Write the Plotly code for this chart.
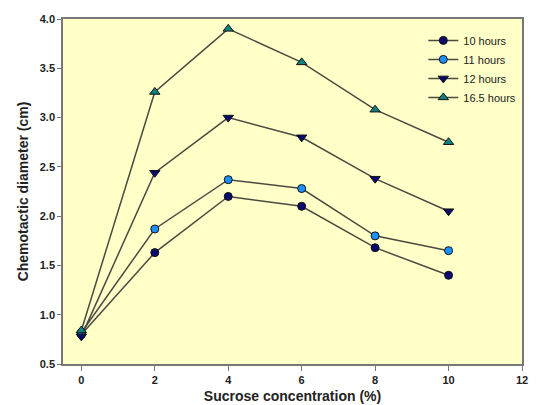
import plotly.graph_objects as go

sucrose = [0, 2, 4, 6, 8, 10]
h10 = [0.80, 1.63, 2.20, 2.10, 1.68, 1.40]
h11 = [0.82, 1.87, 2.37, 2.28, 1.80, 1.65]
h12 = [0.78, 2.44, 3.00, 2.80, 2.38, 2.05]
h165 = [0.84, 3.26, 3.90, 3.56, 3.08, 2.75]
names = ["10 hours", "11 hours", "12 hours", "16.5 hours"]
x_ticks = [0, 2, 4, 6, 8, 10, 12]
y_ticks = [0.5, 1.0, 1.5, 2.0, 2.5, 3.0, 3.5, 4.0]

styles = [
    ("circle", "#0a0a6e", 8),
    ("circle", "#1e90ff", 8),
    ("triangle-down", "#0a0a6e", 9),
    ("triangle-up", "#108080", 9),
]

fig = go.Figure()
for name, ys, (sym, col, sz) in zip(names, [h10, h11, h12, h165], styles):
    fig.add_trace(go.Scatter(
        x=sucrose, y=ys, name=name, mode="lines+markers",
        line=dict(color="#4a4a42", width=1.5),
        marker=dict(symbol=sym, color=col, size=sz, line=dict(color="#111", width=1)),
    ))

font = "Liberation Sans, Arial, sans-serif"
fig.update_layout(
    width=550, height=405,
    margin=dict(l=63, r=28, t=19, b=41, autoexpand=False),
    paper_bgcolor="white",
    plot_bgcolor="#ffffc8",
    font=dict(family=font, size=11, color="#222"),
    showlegend=True,
    legend=dict(x=0.785, y=0.98, xanchor="left", yanchor="top",
                bgcolor="rgba(0,0,0,0)", font=dict(size=11, color="#222"),
                tracegroupgap=0, itemwidth=30),
    xaxis=dict(range=[-0.5, 12], tickvals=x_ticks,
               ticktext=[f"<b>{v}</b>" for v in x_ticks],
               showgrid=False, zeroline=False, automargin=False,
               showline=True, linecolor="#777", linewidth=1.5, mirror=True,
               ticks="outside", ticklen=5, tickcolor="#777",
               tickfont=dict(size=11),
               title=dict(text="<b>Sucrose concentration (%)</b>", font=dict(size=14, color="#222"), standoff=6)),
    yaxis=dict(range=[0.5, 4.0], tickvals=y_ticks,
               ticktext=[f"<b>{v:.1f}</b>" for v in y_ticks],
               showgrid=False, zeroline=False, automargin=False,
               showline=True, linecolor="#777", linewidth=1.5, mirror=True,
               ticks="outside", ticklen=4, tickcolor="#777",
               title=dict(text="<b>Chemotactic diameter (cm)</b>", font=dict(size=14, color="#222"), standoff=8)),
)
fig.write_html("out.html")
